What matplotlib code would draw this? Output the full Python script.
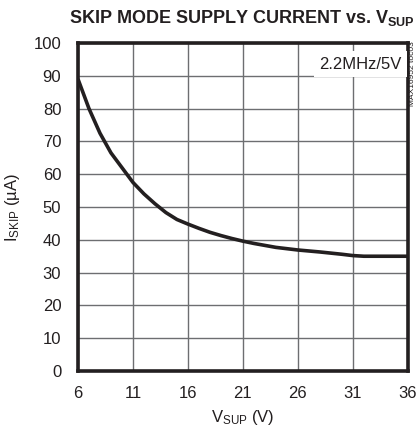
import matplotlib
matplotlib.use("Agg")
import matplotlib.pyplot as plt

# data
v_sup = [6, 7, 8, 9, 10, 11, 12, 13, 14, 15, 16, 17, 18, 19, 20, 21, 22, 24, 26, 28, 30, 31, 32, 34, 36]
i_skip = [89, 80, 72.5, 66.5, 62, 57.5, 54, 51, 48.3, 46.2, 44.8, 43.5, 42.3, 41.3, 40.4, 39.6, 38.9, 37.7, 36.9, 36.3, 35.6, 35.2, 35, 35, 35]

x_ticks = [6, 11, 16, 21, 26, 31, 36]
y_ticks = [0, 10, 20, 30, 40, 50, 60, 70, 80, 90, 100]

plt.rcParams['font.family'] = ['Liberation Sans', 'DejaVu Sans']
plt.rcParams['mathtext.fontset'] = 'custom'
plt.rcParams['mathtext.rm'] = 'Liberation Sans'
plt.rcParams['mathtext.bf'] = 'Liberation Sans:bold'
plt.rcParams['mathtext.it'] = 'Liberation Sans:italic'
plt.rcParams['mathtext.default'] = 'rm'

fig = plt.figure(figsize=(4.17, 4.34), dpi=100)
ax = fig.add_axes([0.187, 0.145, 0.791, 0.756])

ax.plot(v_sup, i_skip, color='#231f20', linewidth=2.6, solid_capstyle='butt', zorder=3)

ax.set_xlim(6, 36)
ax.set_ylim(0, 100)
ax.set_xticks(x_ticks)
ax.set_yticks(y_ticks)
ax.tick_params(length=0, labelsize=12, colors='#231f20')
ax.tick_params(axis='y', pad=12)
ax.tick_params(axis='x', pad=11)
ax.grid(True, color='#6d6e71', linewidth=1.0)
ax.set_axisbelow(True)
for s in ax.spines.values():
    s.set_linewidth(2.6)
    s.set_color('#231f20')

# labelling
ax.set_xlabel(r'$V_{SUP}$ (V)', fontsize=12, color='#231f20', labelpad=5)
ax.set_ylabel(r'$I_{SKIP}$ (µA)', fontsize=12, color='#231f20', labelpad=8)
fig.text(0.58, 0.958, r'SKIP MODE SUPPLY CURRENT vs. $\mathbf{V_{SUP}}$',
         ha='center', va='center', fontsize=13, fontweight='bold', color='#231f20')

ax.text(0.982, 0.935, '2.2MHz/5V', transform=ax.transAxes, ha='right', va='center',
        fontsize=12, color='#231f20',
        bbox=dict(facecolor='white', edgecolor='none', pad=4), zorder=4)
fig.text(0.99, 0.83, 'MAX16952 toc03', rotation=90, ha='center', va='center',
         fontsize=6, color='#231f20')

fig.savefig('out.png', dpi=100)
